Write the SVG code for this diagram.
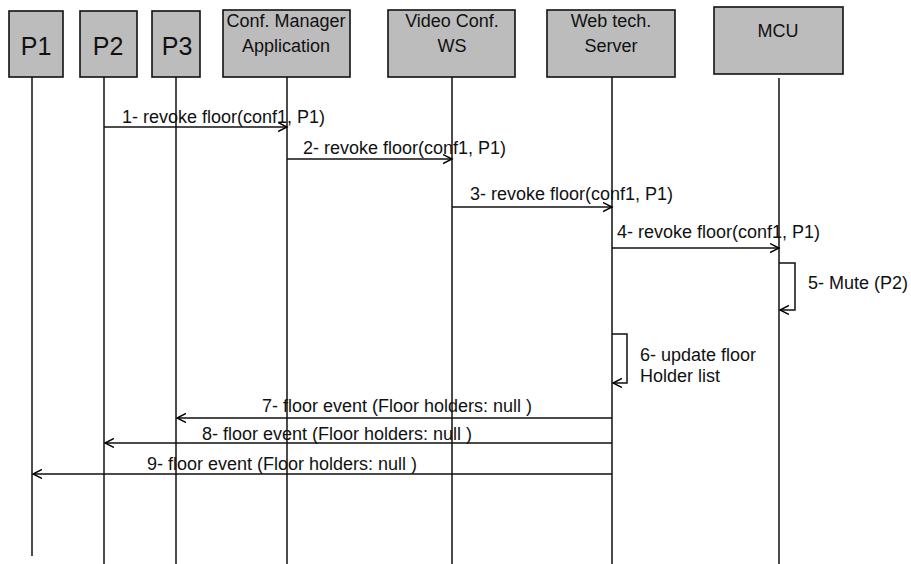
<svg xmlns="http://www.w3.org/2000/svg" width="911" height="564" viewBox="0 0 911 564">
<defs>
<marker id="ah" markerUnits="userSpaceOnUse" markerWidth="12" markerHeight="12" refX="9" refY="5" orient="auto">
<path d="M0,0.5 L9,5 L0,9.5" fill="none" stroke="#000" stroke-width="1.4"/>
</marker>
</defs>
<style>
.box{fill:#bcbcbc;stroke:#111;stroke-width:1.6}
.t{font-family:"Liberation Sans",Arial,sans-serif;font-size:18px;fill:#111}
.h{font-family:"Liberation Sans",Arial,sans-serif;font-size:18px;fill:#111;text-anchor:middle}
.p{font-family:"Liberation Sans",Arial,sans-serif;font-size:25px;fill:#111;text-anchor:middle}
.life{stroke:#111;stroke-width:1.5;fill:none}
.msg{stroke:#111;stroke-width:1.5;fill:none;marker-end:url(#ah)}
</style>
<rect width="911" height="564" fill="#fff"/>
<g id="P1"><rect class="box" x="9" y="11" width="54" height="66"/><text class="p" x="36" y="55">P1</text><line class="life" x1="32" y1="77" x2="32" y2="556"/></g>
<g id="P2"><rect class="box" x="80" y="11" width="57" height="66"/><text class="p" x="108" y="55">P2</text><line class="life" x1="104" y1="77" x2="104" y2="564"/></g>
<g id="P3"><rect class="box" x="152" y="11" width="48" height="66"/><text class="p" x="177" y="55">P3</text><line class="life" x1="176" y1="77" x2="176" y2="564"/></g>
<g id="ConfManager"><rect class="box" x="223" y="10" width="127" height="67"/><text class="h" x="286" y="27">Conf. Manager</text><text class="h" x="286" y="52">Application</text><line class="life" x1="287" y1="77" x2="287" y2="564"/></g>
<g id="VideoConfWS"><rect class="box" x="388" y="10" width="127" height="67"/><text class="h" x="452" y="27">Video Conf.</text><text class="h" x="452" y="52">WS</text><line class="life" x1="452" y1="77" x2="452" y2="564"/></g>
<g id="WebTechServer"><rect class="box" x="547" y="10" width="128" height="67"/><text class="h" x="611" y="27">Web tech.</text><text class="h" x="611" y="52">Server</text><line class="life" x1="612" y1="77" x2="612" y2="564"/></g>
<g id="MCU"><rect class="box" x="714" y="7" width="129" height="67"/><text class="h" x="778" y="37">MCU</text><line class="life" x1="779" y1="78" x2="779" y2="564"/></g>
<g id="connectors">
<line class="msg" x1="104" y1="127" x2="287" y2="127"/>
<line class="msg" x1="287" y1="159" x2="452" y2="159"/>
<line class="msg" x1="452" y1="207" x2="612" y2="207"/>
<line class="msg" x1="612" y1="248" x2="779" y2="248"/>
<path class="msg" d="M779,263 H795 V310 H780"/>
<path class="msg" d="M612,334 H627 V383 H613"/>
<line class="msg" x1="612" y1="418" x2="177" y2="418"/>
<line class="msg" x1="612" y1="443" x2="105" y2="443"/>
<line class="msg" x1="612" y1="474" x2="33" y2="474"/>
</g>
<g id="labels">
<text class="t" x="122" y="123">1- revoke floor(conf1, P1)</text>
<text class="t" x="303" y="154">2- revoke floor(conf1, P1)</text>
<text class="t" x="470" y="200">3- revoke floor(conf1, P1)</text>
<text class="t" x="617" y="238">4- revoke floor(conf1, P1)</text>
<text class="t" x="808" y="289">5- Mute (P2)</text>
<text class="t" x="640" y="361">6- update floor</text>
<text class="t" x="640" y="382">Holder list</text>
<text class="t" x="262" y="412">7- floor event (Floor holders: null )</text>
<text class="t" x="202" y="440">8- floor event (Floor holders: null )</text>
<text class="t" x="147" y="470">9- floor event (Floor holders: null )</text>
</g>
</svg>
